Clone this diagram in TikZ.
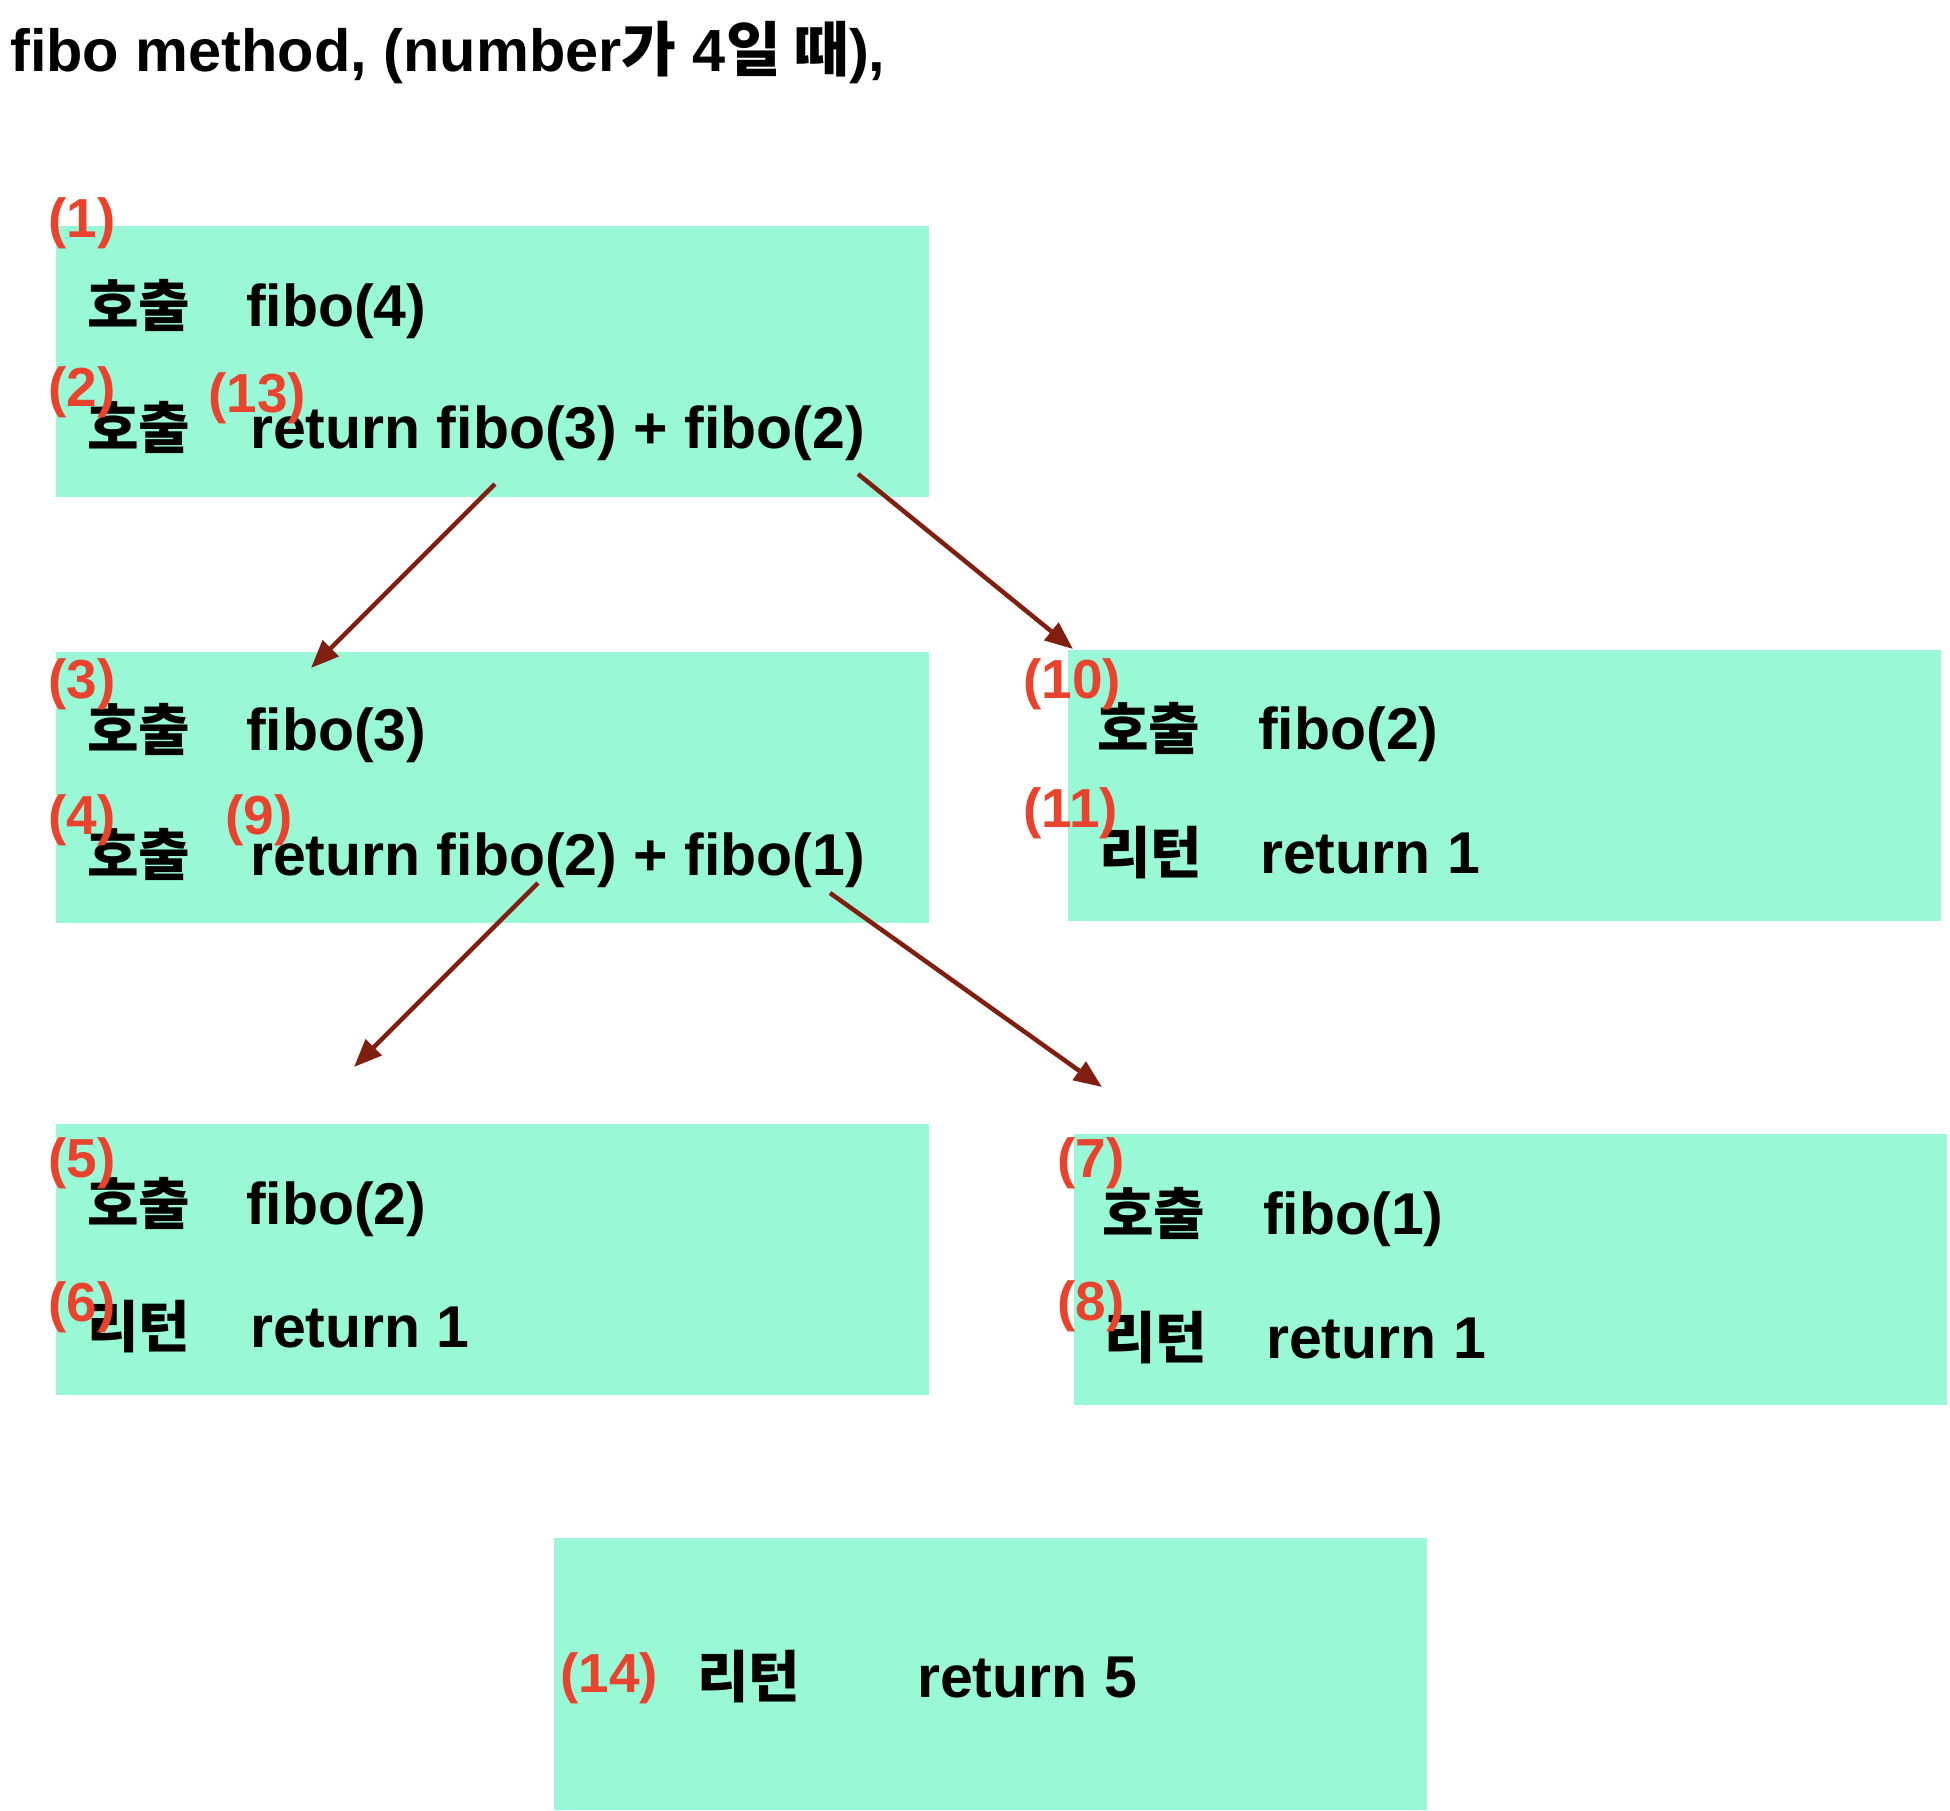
\documentclass[tikz,border=0pt]{standalone}
\usepackage{fontspec}
\setmainfont{Liberation Sans}
\newfontfamily\kr{Noto Sans CJK KR}
\usetikzlibrary{arrows.meta}
\definecolor{boxc}{RGB}{153,248,214}
\definecolor{redc}{RGB}{234,67,45}
\definecolor{arrc}{RGB}{128,30,16}
\begin{document}
\begin{tikzpicture}[x=1pt,y=-1pt,
  box/.style={fill=boxc, draw=none, minimum width=873pt, minimum height=271pt, anchor=north west, inner sep=0pt, outer sep=0pt},
  txt/.style={anchor=base west, inner sep=0pt, font=\fontsize{59}{70}\selectfont\bfseries},
  kor/.style={anchor=base west, inner sep=0pt, font=\fontsize{56}{66}\selectfont\kr\bfseries},
  num/.style={anchor=base west, inner sep=0pt, text=redc, font=\fontsize{55}{66}\selectfont\bfseries},
  arr/.style={draw=arrc, line width=4.5pt, -{Triangle[length=28pt,width=22pt]}}]
\useasboundingbox (0,0) rectangle (1950,1810);
% title
\node[txt, font=\fontsize{59.5}{70}\selectfont\bfseries] (title) at (10,71) {fibo method, (number{\kr 가} 4{\kr 일 때}),};
% boxes
\node[box] (b1) at (56,226) {};
\node[box] (b3) at (56,652) {};
\node[box] (b5) at (56,1124) {};
\node[box] (b10) at (1068,650) {};
\node[box] (b7) at (1074,1134) {};
\node[box, minimum height=272pt] (b14) at (554,1538) {};
% box 1
\node[kor] (k1a) at (87,326) {호출};
\node[txt] (t1a) at (246,326) {fibo(4)};
\node[kor] (k1b) at (87,448) {호출};
\node[txt] (t1b) at (250,448) {return fibo(3) + fibo(2)};
\node[num] (n1) at (48,237) {(1)};
\node[num] (n2) at (48,406) {(2)};
\node[num] (n13) at (208,412) {(13)};
% box 3
\node[kor] (k3a) at (87,750) {호출};
\node[txt] (t3a) at (246,750) {fibo(3)};
\node[kor] (k3b) at (87,875) {호출};
\node[txt] (t3b) at (250,875) {return fibo(2) + fibo(1)};
\node[num] (n3) at (48,698) {(3)};
\node[num] (n4) at (48,834) {(4)};
\node[num] (n9) at (225,834) {(9)};
% box 5
\node[kor] (k5a) at (87,1224) {호출};
\node[txt] (t5a) at (246,1224) {fibo(2)};
\node[kor] (k5b) at (87,1347) {리턴};
\node[txt] (t5b) at (250,1347) {return 1};
\node[num] (n5) at (48,1177) {(5)};
\node[num] (n6) at (48,1321) {(6)};
% box 10
\node[kor] (k10a) at (1097,749) {호출};
\node[txt] (t10a) at (1258,749) {fibo(2)};
\node[kor] (k10b) at (1099,873) {리턴};
\node[txt] (t10b) at (1260,873) {return 1};
\node[num] (n10) at (1023,698) {(10)};
\node[num] (n11) at (1023,827) {(11)};
% box 7
\node[kor] (k7a) at (1102,1234) {호출};
\node[txt] (t7a) at (1263,1234) {fibo(1)};
\node[kor] (k7b) at (1104,1358) {리턴};
\node[txt] (t7b) at (1266,1358) {return 1};
\node[num] (n7) at (1057,1177) {(7)};
\node[num] (n8) at (1057,1320) {(8)};
% box 14
\node[kor] (k14) at (697,1697) {리턴};
\node[txt] (t14) at (917,1697) {return 5};
\node[num] (n14) at (560,1692) {(14)};
% arrows
\coordinate (s1) at (495,484); \coordinate (e1) at (311,668);
\coordinate (s2) at (858,474); \coordinate (e2) at (1073,649);
\coordinate (s3) at (538,883); \coordinate (e3) at (354,1067);
\coordinate (s4) at (830,893); \coordinate (e4) at (1102,1087);
\draw[arr] (s1) -- (e1);
\draw[arr] (s2) -- (e2);
\draw[arr] (s3) -- (e3);
\draw[arr] (s4) -- (e4);
\end{tikzpicture}
\end{document}
